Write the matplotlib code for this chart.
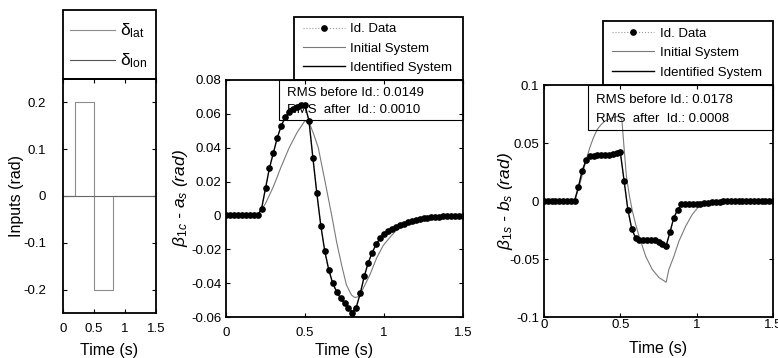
import numpy as np
import matplotlib
matplotlib.use("Agg")
import matplotlib.pyplot as plt
from matplotlib.patches import Rectangle
from matplotlib.lines import Line2D

plt.rcParams['font.family'] = ['Liberation Sans', 'DejaVu Sans']
plt.rcParams['mathtext.fontset'] = 'custom'
plt.rcParams['mathtext.rm'] = 'Liberation Sans'
plt.rcParams['mathtext.it'] = 'Liberation Sans:italic'
plt.rcParams['axes.unicode_minus'] = False

# ---------------- data ----------------
# Inputs (doublet on delta_lat, zero on delta_lon), step-post
t_in = [0, 0.2, 0.5, 0.8, 1.5]
d_lat = [0, 0.2, -0.2, 0, 0]
d_lon = [0, 0, 0, 0, 0]

# Common sampling of the identification data
t_id = np.linspace(0, 1.5, 61)

# Panel 2: beta_1c - a_s
b1c_data = [0, 0, 0, 0, 0, 0, 0, 0, 0,
            0.004, 0.016, 0.028, 0.037, 0.046, 0.053, 0.058, 0.061, 0.063, 0.064, 0.065, 0.0655,
            0.056, 0.034, 0.013, -0.006, -0.021, -0.032, -0.040, -0.045, -0.0485, -0.052, -0.0546, -0.0574,
            -0.0546, -0.0456, -0.036, -0.028, -0.022, -0.017, -0.0136, -0.011, -0.0093, -0.0079, -0.0068,
            -0.0058, -0.0049, -0.004, -0.0033, -0.0027, -0.0022, -0.0018, -0.0014, -0.0011, -0.0009,
            -0.0007, -0.0005, -0.0004, -0.0003, -0.0002, -0.0001, -0.0001]
b1c_ident = [0, 0, 0, 0, 0, 0, 0, 0, 0,
             0.004, 0.016, 0.028, 0.037, 0.046, 0.053, 0.058, 0.061, 0.063, 0.064, 0.065, 0.065,
             0.056, 0.034, 0.013, -0.006, -0.021, -0.032, -0.040, -0.045, -0.049, -0.052, -0.055, -0.057,
             -0.054, -0.046, -0.036, -0.028, -0.022, -0.017, -0.0136, -0.011, -0.0093, -0.0079, -0.0068,
             -0.0058, -0.0049, -0.004, -0.0033, -0.0027, -0.0022, -0.0018, -0.0014, -0.0011, -0.0009,
             -0.0007, -0.0005, -0.0004, -0.0003, -0.0002, -0.0001, -0.0001]
t_b1c_init = [0, 0.2, 0.25, 0.3, 0.35, 0.4, 0.45, 0.5, 0.53, 0.555, 0.584, 0.627, 0.669, 0.7, 0.731,
              0.762, 0.794, 0.816, 0.838, 0.869, 0.911, 0.954, 0.996, 1.049, 1.1, 1.15, 1.2, 1.3, 1.4, 1.5]
b1c_init = [0, 0, 0.007, 0.017, 0.029, 0.040, 0.049, 0.056, 0.054, 0.048, 0.040, 0.020, 0.0, -0.0156,
            -0.029, -0.041, -0.047, -0.0485, -0.048, -0.043, -0.035, -0.025, -0.0176, -0.0117, -0.0067,
            -0.0037, -0.0025, -0.0011, -0.0004, -0.0001]

# Panel 3: beta_1s - b_s
b1s_data = [0, 0, 0, 0, 0, 0, 0, 0, 0,
            0.012, 0.026, 0.035, 0.039, 0.039, 0.0393, 0.0395, 0.0398, 0.040, 0.0405, 0.041, 0.042,
            0.017, -0.008, -0.024, -0.032, -0.034, -0.034, -0.0333, -0.0333, -0.034, -0.0355, -0.037, -0.0385,
            -0.027, -0.0145, -0.0075, -0.003, -0.003, -0.003, -0.003, -0.0028, -0.0024, -0.002, -0.0016,
            -0.0012, -0.0009, -0.0006, -0.0004, -0.0002,
            0, 0, 0, 0, 0, 0, 0, 0, 0, 0, 0, 0]
b1s_ident = [0, 0, 0, 0, 0, 0, 0, 0, 0,
             0.012, 0.026, 0.035, 0.038, 0.039, 0.0393, 0.0395, 0.0398, 0.040, 0.0405, 0.041, 0.042,
             0.017, -0.008, -0.024, -0.032, -0.034, -0.034, -0.0334, -0.0334, -0.034, -0.0355, -0.037, -0.0385,
             -0.027, -0.0145, -0.0075, -0.0035, -0.003, -0.003, -0.003, -0.0028, -0.0024, -0.002, -0.0016,
             -0.0012, -0.0009, -0.0006, -0.0004, -0.0002,
             0, 0, 0, 0, 0, 0, 0, 0, 0, 0, 0, 0]
t_b1s_init = [0, 0.2, 0.225, 0.25, 0.275, 0.3, 0.325, 0.35, 0.375, 0.4, 0.45, 0.49, 0.51, 0.525, 0.54,
              0.56, 0.578, 0.6, 0.622, 0.666, 0.709, 0.753, 0.8, 0.818, 0.851, 0.884, 0.928, 0.971,
              1.015, 1.05, 1.1, 1.2, 1.3, 1.5]
b1s_init = [0, 0, 0.010, 0.022, 0.035, 0.046, 0.055, 0.062, 0.066, 0.069, 0.072, 0.073, 0.070, 0.045,
            0.021, 0.004, -0.008, -0.020, -0.030, -0.0476, -0.059, -0.066, -0.070, -0.059, -0.0476,
            -0.0346, -0.0217, -0.0116, -0.0045, -0.0025, -0.0012, -0.0002, 0, 0]

x_ticks = [0, 0.5, 1, 1.5]
x_ticklabels = ['0', '0.5', '1', '1.5']
in_yticks = [-0.2, -0.1, 0, 0.1, 0.2]
in_yticklabels = ['-0.2', '-0.1', '0', '0.1', '0.2']
b1c_yticks = [-0.06, -0.04, -0.02, 0, 0.02, 0.04, 0.06, 0.08]
b1c_yticklabels = ['-0.06', '-0.04', '-0.02', '0', '0.02', '0.04', '0.06', '0.08']
b1s_yticks = [-0.1, -0.05, 0, 0.05, 0.1]
b1s_yticklabels = ['-0.1', '-0.05', '0', '0.05', '0.1']

legend_labels = ['Id. Data', 'Initial System', 'Identified System']
rms_b1c = ['RMS before Id.: 0.0149', 'RMS  after  Id.: 0.0010']
rms_b1s = ['RMS before Id.: 0.0178', 'RMS  after  Id.: 0.0008']

# ---------------- layout helpers ----------------
W, H = 778, 358
fig = plt.figure(figsize=(W / 100, H / 100), dpi=100)


def fx(px):
    return px / W


def fy(py):
    return 1 - py / H


def add_ax(l, t, r, b):
    return fig.add_axes([fx(l), fy(b), fx(r) - fx(l), fy(t) - fy(b)])


def fig_box(l, t, r, b, lw=1.0):
    rect = Rectangle((fx(l), fy(b)), fx(r) - fx(l), fy(t) - fy(b), transform=fig.transFigure,
                     fill=False, edgecolor='black', linewidth=lw, zorder=10)
    fig.add_artist(rect)


def style_ax(ax, xpad, ypad):
    for s in ax.spines.values():
        s.set_linewidth(1.3)
    ax.tick_params(direction='in', top=True, right=True, length=3, width=0.8,
                   labelsize=9.5)
    ax.tick_params(axis='x', pad=xpad)
    ax.tick_params(axis='y', pad=ypad)
    ax.set_xlim(0, 1.5)
    ax.set_xticks(x_ticks)
    ax.set_xticklabels(x_ticklabels)


GRAY = '#7a7a7a'

# ---------------- panel 1 : inputs ----------------
ax1 = add_ax(63, 79, 156, 313)
ax1.plot(t_in, d_lat, drawstyle='steps-post', color='#8c8c8c', lw=0.8)
ax1.plot(t_in, d_lon, drawstyle='steps-post', color='#666666', lw=0.8)
style_ax(ax1, 7, 12)
ax1.set_ylim(-0.25, 0.25)
ax1.set_yticks(in_yticks)
ax1.set_yticklabels(in_yticklabels)
ax1.set_ylabel('Inputs (rad)', fontsize=11.5)
ax1.yaxis.set_label_coords(-0.495, 0.5)
ax1.yaxis.label.set_verticalalignment('center')
ax1.set_xlabel('Time (s)', fontsize=11.5)
ax1.xaxis.set_label_coords(0.5, -0.162)
ax1.xaxis.label.set_verticalalignment('center')

fig_box(63, 10, 156, 79, lw=1.3)
h1 = [Line2D([], [], color='#8c8c8c', lw=0.8), Line2D([], [], color='#555555', lw=0.8)]
ax1.legend(h1, [r'$\mathrm{\delta}_{\mathrm{lat}}$', r'$\mathrm{\delta}_{\mathrm{lon}}$'],
           loc='center left', bbox_to_anchor=(fx(70), fy(46)), bbox_transform=fig.transFigure,
           frameon=False, fontsize=12.5, handlelength=2.6, handletextpad=0.3,
           labelspacing=0.65, borderpad=0, borderaxespad=0)


# ---------------- panels 2 & 3 ----------------
def response_panel(box, t_init, v_init, v_data, v_ident, ylim, yticks, yticklabels,
                   ylabel, ylab_x, xlab_y, xpad, leg_box, leg_x, rms_box, rms_lines):
    ax = add_ax(*box)
    ax.plot(t_id, v_data, color='#999999', lw=0.8, ls=':', marker='o', ms=3.8,
            mfc='black', mec='black', zorder=3)
    ax.plot(t_init, v_init, color=GRAY, lw=0.8, zorder=2)
    ax.plot(t_id, v_ident, color='black', lw=1.0, zorder=4)
    style_ax(ax, xpad, 3.5)
    ax.set_ylim(*ylim)
    ax.set_yticks(yticks)
    ax.set_yticklabels(yticklabels)
    ax.set_ylabel(ylabel, fontsize=12.5, style='italic')
    ax.yaxis.set_label_coords(ylab_x, 0.5)
    ax.yaxis.label.set_verticalalignment('center')
    ax.set_xlabel('Time (s)', fontsize=11.5)
    ax.xaxis.set_label_coords(0.5, xlab_y)
    ax.xaxis.label.set_verticalalignment('center')

    # legend box
    l, t, r, b = leg_box
    fig_box(l, t, r, b, lw=1.3)
    hs = [Line2D([], [], color='#999999', lw=0.8, ls=':', marker='o', ms=3.8,
                 mfc='black', mec='black'),
          Line2D([], [], color=GRAY, lw=0.8),
          Line2D([], [], color='black', lw=1.0)]
    ax.legend(hs, legend_labels, loc='center left',
              bbox_to_anchor=(fx(leg_x), fy((t + b) / 2)), bbox_transform=fig.transFigure,
              frameon=False, fontsize=9.5, handlelength=3.2, handletextpad=0.4,
              labelspacing=0.55, borderpad=0, borderaxespad=0)
    # RMS box
    l, t, r, b = rms_box
    fig_box(l, t, r, b, lw=0.8)
    fig.text(fx(l + 8), fy(t + (b - t) * 0.33), rms_lines[0], fontsize=9.5,
             va='center', ha='left')
    fig.text(fx(l + 8), fy(t + (b - t) * 0.76), rms_lines[1], fontsize=9.5,
             va='center', ha='left')
    return ax


ax2 = response_panel((226, 80, 463, 317), t_b1c_init, b1c_init, b1c_data, b1c_ident,
                     (-0.06, 0.08), b1c_yticks, b1c_yticklabels,
                     r'$\beta_{1c}$ - $a_s$ (rad)', -0.19, -0.143, 7,
                     (294, 17, 463, 80), 303, (279, 80, 463, 120), rms_b1c)

ax3 = response_panel((544, 85, 773, 317), t_b1s_init, b1s_init, b1s_data, b1s_ident,
                     (-0.1, 0.1), b1s_yticks, b1s_yticklabels,
                     r'$\beta_{1s}$ - $b_s$ (rad)', -0.17, -0.134, 1.5,
                     (603, 21, 773, 85), 612, (588, 85, 773, 130), rms_b1s)

fig.savefig('out.png', dpi=100)
